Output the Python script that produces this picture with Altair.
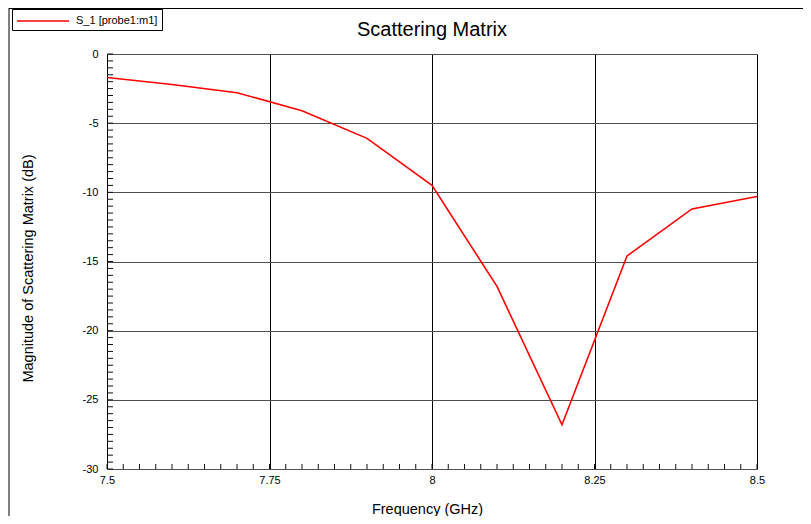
import altair as alt
import pandas as pd

# ---- data ----
freq = [7.5, 7.6, 7.7, 7.8, 7.9, 8.0, 8.1, 8.2, 8.3, 8.4, 8.5]
s11 = [-1.7, -2.2, -2.8, -4.1, -6.1, -9.5, -16.8, -26.8, -14.6, -11.2, -10.3]
series_name = "S_1 [probe1:m1]"
chart_title = "Scattering Matrix"

x_major = [7.5, 7.75, 8.0, 8.25, 8.5]
y_major = [0, -5, -10, -15, -20, -25, -30]
x_minor = [round(7.5 + 0.025 * i, 3) for i in range(41)]
y_minor = [-0.5 * i for i in range(61)]

FONT = "Liberation Sans, Arial, sans-serif"

df = pd.DataFrame({"freq": freq, "s11": s11, "series": [series_name] * len(freq)})
xminor_df = pd.DataFrame({"freq": x_minor})
yminor_df = pd.DataFrame({"s11": y_minor})

W, H = 650, 415
xs = alt.Scale(domain=[7.5, 8.5], nice=False, zero=False)
ys = alt.Scale(domain=[-30, 0], nice=False, zero=False)

major_x = alt.Axis(
    orient="bottom", values=x_major, labelExpr="datum.value + ''", ticks=False, domain=False,
    grid=True, gridColor="#000000", gridOpacity=1, gridWidth=1,
    labelFont=FONT, labelFontSize=11, labelColor="#000", labelPadding=5,
    labelFlush=False, labelOverlap=False,
    title="Frequency (GHz)", titleFont=FONT, titleFontSize=14.5, titleFontWeight="normal",
    titleColor="#000", titleX=320, titleY=40, titleBaseline="middle", titleAlign="center",
)
major_y = alt.Axis(
    orient="left", values=y_major, labelExpr="datum.value + ''", ticks=False, domain=False,
    grid=True, gridColor="#505050", gridOpacity=1, gridWidth=1,
    labelFont=FONT, labelFontSize=11, labelColor="#000", labelPadding=9,
    labelFlush=False, labelOverlap=False,
    title="Magnitude of Scattering Matrix (dB)", titleFont=FONT, titleFontSize=14.5,
    titleFontWeight="normal", titleColor="#000", titleAngle=270, titleX=-79, titleY=214,
    titleBaseline="middle", titleAlign="center",
)

# inward minor ticks along the bottom and left edges
xminor_ticks = alt.Chart(xminor_df).mark_rule(color="#111", strokeWidth=1).encode(
    x=alt.X("freq:Q", scale=xs, axis=major_x),
    y=alt.value(H), y2=alt.value(H - 5),
)
yminor_ticks = alt.Chart(yminor_df).mark_rule(color="#111", strokeWidth=1).encode(
    y=alt.Y("s11:Q", scale=ys, axis=major_y),
    x=alt.value(0), x2=alt.value(6),
)

line = alt.Chart(df).mark_line(strokeWidth=1.6, clip=True).encode(
    x=alt.X("freq:Q", scale=xs, axis=major_x),
    y=alt.Y("s11:Q", scale=ys, axis=major_y),
    color=alt.Color(
        "series:N",
        scale=alt.Scale(range=["#ff0000"]),
        legend=alt.Legend(
            orient="none", legendX=-95, legendY=-45, title=None,
            strokeColor="#000", fillColor="#ffffff", padding=4,
            symbolType="M-3.714,0H3.714", symbolSize=196, symbolStrokeWidth=1.5,
            symbolOffset=19, labelOffset=25,
            labelFont=FONT, labelFontSize=11, labelColor="#000",
        ),
    ),
)

frame_df = pd.DataFrame({"k": [0]})
left_border = alt.Chart(frame_df).mark_rule(color="#000", strokeWidth=1, clip=False).encode(
    x=alt.value(-98), y=alt.value(-46), y2=alt.value(H + 47)
)
top_border = alt.Chart(frame_df).mark_rule(color="#000", strokeWidth=1, clip=False).encode(
    x=alt.value(-98), x2=alt.value(W + 46), y=alt.value(-45.5)
)

title_df = pd.DataFrame({"t": [chart_title]})
title_mark = alt.Chart(title_df).mark_text(
    font=FONT, fontSize=20, color="#000", align="center", baseline="alphabetic", clip=False
).encode(text="t:N", x=alt.value(W / 2), y=alt.value(-18))

chart = (
    alt.layer(xminor_ticks, yminor_ticks, line, left_border, top_border, title_mark)
    .properties(
        width=W, height=H,
        padding={"left": 99, "top": 46, "right": 46, "bottom": 47},
        autosize=alt.AutoSizeParams(type="none"),
    )
    .configure_view(stroke="#000", strokeWidth=1)
    .configure(background="#ffffff")
)

chart.save("out.html", embed_options={"renderer": "svg", "actions": False})
